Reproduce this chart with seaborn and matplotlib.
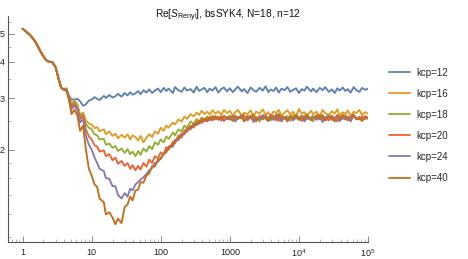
import numpy as np
import pandas as pd
import matplotlib
matplotlib.use("Agg")
import matplotlib.pyplot as plt
import seaborn as sns
from matplotlib.ticker import FixedLocator, FixedFormatter, NullFormatter

# ---------------- data ----------------
E24 = [1.0, 1.1, 1.2, 1.3, 1.5, 1.6, 1.8, 2.0, 2.2, 2.4, 2.7, 3.0,
       3.3, 3.6, 3.9, 4.3, 4.7, 5.1, 5.6, 6.2, 6.8, 7.5, 8.2, 9.1]
t_common = E24[:15]
t_tail = E24[15:] + [round(m * 10 ** d, 6) for d in (1, 2, 3, 4) for m in E24] + [1e5]

s_common = [5.20, 5.10, 5.02, 4.93, 4.72, 4.60, 4.36, 4.18, 4.05, 4.01,
            3.99, 3.84, 3.52, 3.27, 3.22]

kcp_labels = ["kcp=12", "kcp=16", "kcp=18", "kcp=20", "kcp=24", "kcp=40"]

s_kcp12 = [3.18, 3.05, 2.98, 2.97, 2.99, 2.93, 2.83, 2.86, 2.95,
           2.97, 3.03, 2.99, 2.96, 3.06, 3.01, 3.08, 3.02, 3.05, 3.11,
           3.04, 3.13, 3.07, 3.15, 3.09, 3.12, 3.18, 3.1, 3.2, 3.14,
           3.22, 3.13, 3.19, 3.24,
           3.15, 3.26, 3.18, 3.24, 3.13, 3.28, 3.2, 3.16, 3.27, 3.19,
           3.23, 3.14, 3.29, 3.18, 3.22, 3.26, 3.15, 3.24, 3.19, 3.28,
           3.14, 3.23, 3.27, 3.17,
           3.25, 3.15, 3.22, 3.29, 3.17, 3.23, 3.13, 3.27, 3.2, 3.16,
           3.26, 3.19, 3.3, 3.15, 3.22, 3.18, 3.27, 3.14, 3.24, 3.2,
           3.28, 3.16, 3.21, 3.25, 3.13, 3.23, 3.19, 3.29, 3.17, 3.24,
           3.15, 3.26, 3.2, 3.28, 3.16, 3.22, 3.13, 3.25, 3.19, 3.27,
           3.18, 3.23, 3.14, 3.28, 3.2, 3.16, 3.26, 3.21, 3.24]

s_kcp16 = [3.25, 3.06, 2.88, 2.95, 2.86, 2.64, 2.68, 2.52, 2.46,
           2.44, 2.37, 2.39, 2.31, 2.35, 2.26, 2.31, 2.23, 2.27, 2.19,
           2.25, 2.2, 2.26, 2.17, 2.24, 2.21, 2.15, 2.23, 2.12, 2.2,
           2.26, 2.21, 2.31, 2.27,
           2.38, 2.32, 2.42, 2.38, 2.48, 2.44, 2.54, 2.5, 2.6, 2.55,
           2.65, 2.6, 2.68, 2.63, 2.72, 2.65, 2.7, 2.64, 2.73, 2.66,
           2.71, 2.63, 2.74, 2.67,
           2.72, 2.62, 2.69, 2.74, 2.61, 2.68, 2.65, 2.73, 2.6, 2.7,
           2.66, 2.75, 2.63, 2.69, 2.6, 2.71, 2.67, 2.74, 2.62, 2.68,
           2.73, 2.64, 2.7, 2.61, 2.76, 2.66, 2.69, 2.62, 2.72, 2.65,
           2.7, 2.6, 2.74, 2.67, 2.63, 2.71, 2.66, 2.75, 2.62, 2.69,
           2.65, 2.73, 2.61, 2.7, 2.67, 2.74, 2.63, 2.69, 2.66]

s_kcp18 = [3.24, 3.04, 2.84, 2.92, 2.82, 2.6, 2.65, 2.45, 2.38,
           2.35, 2.26, 2.24, 2.17, 2.18, 2.08, 2.1, 2.03, 2.06, 1.98,
           2.02, 1.95, 2.01, 1.93, 1.97, 1.9, 1.98, 1.92, 2.02, 1.97,
           2.06, 2.01, 2.12, 2.08,
           2.17, 2.12, 2.22, 2.18, 2.29, 2.24, 2.35, 2.31, 2.42, 2.38,
           2.5, 2.45, 2.55, 2.49, 2.58, 2.52, 2.6, 2.54, 2.62, 2.55,
           2.6, 2.52, 2.62, 2.56,
           2.62, 2.52, 2.59, 2.55, 2.64, 2.51, 2.58, 2.62, 2.53, 2.6,
           2.5, 2.63, 2.56, 2.59, 2.52, 2.61, 2.55, 2.65, 2.53, 2.58,
           2.61, 2.51, 2.63, 2.56, 2.6, 2.53, 2.62, 2.54, 2.59, 2.5,
           2.64, 2.57, 2.6, 2.52, 2.58, 2.62, 2.54, 2.6, 2.51, 2.63,
           2.56, 2.59, 2.53, 2.62, 2.55, 2.6, 2.52, 2.58, 2.57]

s_kcp20 = [3.23, 3.02, 2.8, 2.88, 2.78, 2.55, 2.62, 2.35, 2.22,
           2.17, 2.07, 2.05, 1.97, 1.99, 1.9, 1.93, 1.84, 1.88, 1.79,
           1.83, 1.76, 1.8, 1.72, 1.77, 1.7, 1.76, 1.71, 1.8, 1.75,
           1.85, 1.8, 1.9, 1.87,
           1.96, 1.92, 2.04, 2.0, 2.13, 2.1, 2.24, 2.2, 2.33, 2.3,
           2.42, 2.38, 2.49, 2.45, 2.55, 2.5, 2.58, 2.52, 2.6, 2.54,
           2.59, 2.52, 2.61, 2.55,
           2.54, 2.62, 2.51, 2.59, 2.56, 2.63, 2.52, 2.6, 2.55, 2.5,
           2.61, 2.57, 2.6, 2.52, 2.64, 2.55, 2.59, 2.51, 2.62, 2.56,
           2.53, 2.6, 2.55, 2.63, 2.57, 2.51, 2.59, 2.62, 2.53, 2.6,
           2.56, 2.64, 2.54, 2.59, 2.52, 2.61, 2.57, 2.5, 2.6, 2.55,
           2.62, 2.58, 2.52, 2.63, 2.56, 2.54, 2.6, 2.55, 2.58]

s_kcp24 = [3.22, 3.0, 2.75, 2.84, 2.72, 2.48, 2.55, 2.24, 2.08,
           2.0, 1.88, 1.8, 1.72, 1.69, 1.6, 1.59, 1.5, 1.5, 1.4,
           1.36, 1.42, 1.38, 1.47, 1.45, 1.52, 1.55, 1.58, 1.61, 1.65,
           1.7, 1.73, 1.8, 1.82,
           1.87, 1.94, 1.96, 2.04, 2.05, 2.14, 2.16, 2.25, 2.26, 2.35,
           2.35, 2.44, 2.43, 2.51, 2.47, 2.55, 2.5, 2.58, 2.52, 2.6,
           2.53, 2.59, 2.51, 2.58,
           2.54, 2.6, 2.5, 2.57, 2.62, 2.52, 2.56, 2.61, 2.49, 2.58,
           2.54, 2.63, 2.55, 2.51, 2.6, 2.53, 2.64, 2.56, 2.5, 2.59,
           2.55, 2.61, 2.52, 2.58, 2.54, 2.62, 2.5, 2.57, 2.55, 2.61,
           2.53, 2.6, 2.49, 2.58, 2.62, 2.53, 2.56, 2.63, 2.51, 2.58,
           2.54, 2.6, 2.5, 2.62, 2.55, 2.58, 2.52, 2.6, 2.55]

s_kcp40 = [3.2, 2.95, 2.65, 2.74, 2.62, 2.32, 2.42, 2.02, 1.72,
           1.63, 1.52, 1.49, 1.36, 1.32, 1.2, 1.22, 1.17, 1.11, 1.16,
           1.12, 1.27, 1.3, 1.38, 1.34, 1.45, 1.46, 1.55, 1.54, 1.63,
           1.66, 1.76, 1.75, 1.85,
           1.86, 1.95, 1.96, 2.05, 2.08, 2.16, 2.18, 2.27, 2.28, 2.37,
           2.37, 2.45, 2.44, 2.52, 2.48, 2.56, 2.51, 2.59, 2.53, 2.61,
           2.54, 2.6, 2.52, 2.59,
           2.58, 2.51, 2.62, 2.55, 2.6, 2.5, 2.61, 2.56, 2.64, 2.53,
           2.59, 2.54, 2.62, 2.51, 2.57, 2.61, 2.52, 2.65, 2.55, 2.59,
           2.5, 2.61, 2.56, 2.63, 2.53, 2.6, 2.55, 2.64, 2.52, 2.58,
           2.61, 2.54, 2.63, 2.52, 2.6, 2.57, 2.5, 2.62, 2.55, 2.63,
           2.57, 2.52, 2.6, 2.64, 2.54, 2.58, 2.51, 2.61, 2.57]

series = [s_kcp12, s_kcp16, s_kcp18, s_kcp20, s_kcp24, s_kcp40]
colors = ["#5E81B5", "#E19C24", "#8FB032", "#EB6235", "#8778B3", "#C56E1A"]

x_major = [1, 10, 100, 1000, 1e4, 1e5]
x_major_labels = ["1", "10", "100", "1000", r"$10^4$", r"$10^5$"]
y_major = [2, 3, 4, 5]
y_major_labels = ["2", "3", "4", "5"]
y_minor = [1.0, 1.2, 1.4, 1.6, 1.8, 2.5, 3.5, 4.5, 5.5]

rows = []
for lab, vals in zip(kcp_labels, series):
    tt = t_common + t_tail
    vv = s_common + vals
    assert len(tt) == len(vv), (lab, len(tt), len(vv))
    for a, b in zip(tt, vv):
        rows.append((lab, a, b))
df = pd.DataFrame(rows, columns=["kcp", "t", "S"])

# ---------------- style ----------------
sns.set_style("ticks")
plt.rcParams["font.family"] = ["Liberation Sans", "DejaVu Sans"]
plt.rcParams["mathtext.fontset"] = "custom"
plt.rcParams["mathtext.rm"] = "Liberation Sans"
plt.rcParams["mathtext.it"] = "Liberation Sans:italic"
plt.rcParams["mathtext.bf"] = "Liberation Sans:bold"

W, H = 468, 259
fig = plt.figure(figsize=(W / 100, H / 100), dpi=100)
ax = fig.add_axes([8.3 / W, 1 - 242 / H, (368 - 8.3) / W, (242 - 16) / H])

sns.lineplot(data=df, x="t", y="S", hue="kcp", hue_order=kcp_labels,
             palette=colors, estimator=None, sort=False, lw=1.35, ax=ax,
             legend=True)

ax.set_xscale("log")
ax.set_yscale("log")
ax.set_xlim(0.62, 1.0e5)
ax.set_ylim(0.965, 5.75)
ax.set_xlabel("")
ax.set_ylabel("")

ax.xaxis.set_major_locator(FixedLocator(x_major))
ax.xaxis.set_major_formatter(FixedFormatter(x_major_labels))
x_minor = [m * 10 ** d for d in range(-1, 5) for m in range(2, 10) if 0.62 < m * 10 ** d < 1e5]
ax.xaxis.set_minor_locator(FixedLocator(x_minor))
ax.xaxis.set_minor_formatter(NullFormatter())
ax.yaxis.set_major_locator(FixedLocator(y_major))
ax.yaxis.set_major_formatter(FixedFormatter(y_major_labels))
ax.yaxis.set_minor_locator(FixedLocator(y_minor))
ax.yaxis.set_minor_formatter(NullFormatter())

for s in ["top", "right"]:
    ax.spines[s].set_visible(False)
for s in ["left", "bottom"]:
    ax.spines[s].set_color("#555555")
    ax.spines[s].set_linewidth(0.8)

ax.tick_params(axis="both", which="major", direction="in", length=4, width=0.6,
               color="#777777", labelsize=6.5, labelcolor="#222222")
ax.tick_params(axis="both", which="minor", direction="in", length=2, width=0.5,
               color="#999999")
ax.tick_params(axis="x", which="major", pad=4)
ax.tick_params(axis="y", which="major", pad=2.5)

# legend
handles, labels = ax.get_legend_handles_labels()
ax.get_legend().remove()
for h in handles:
    h.set_linewidth(1.3)
fig.legend(handles, labels, loc="upper left",
           bbox_to_anchor=(389 / W, 1 - 67.5 / H), frameon=False,
           fontsize=7, handlelength=2.16, handletextpad=0.69,
           labelspacing=1.14, borderpad=0, borderaxespad=0)

fig.text(228 / W, 1 - 18.5 / H, r"Re[$S_{\mathrm{Renyi}}$], bsSYK4, N=18, n=12",
         ha="center", va="baseline", fontsize=7.3, color="#111111")

fig.savefig("out.png", dpi=100)
